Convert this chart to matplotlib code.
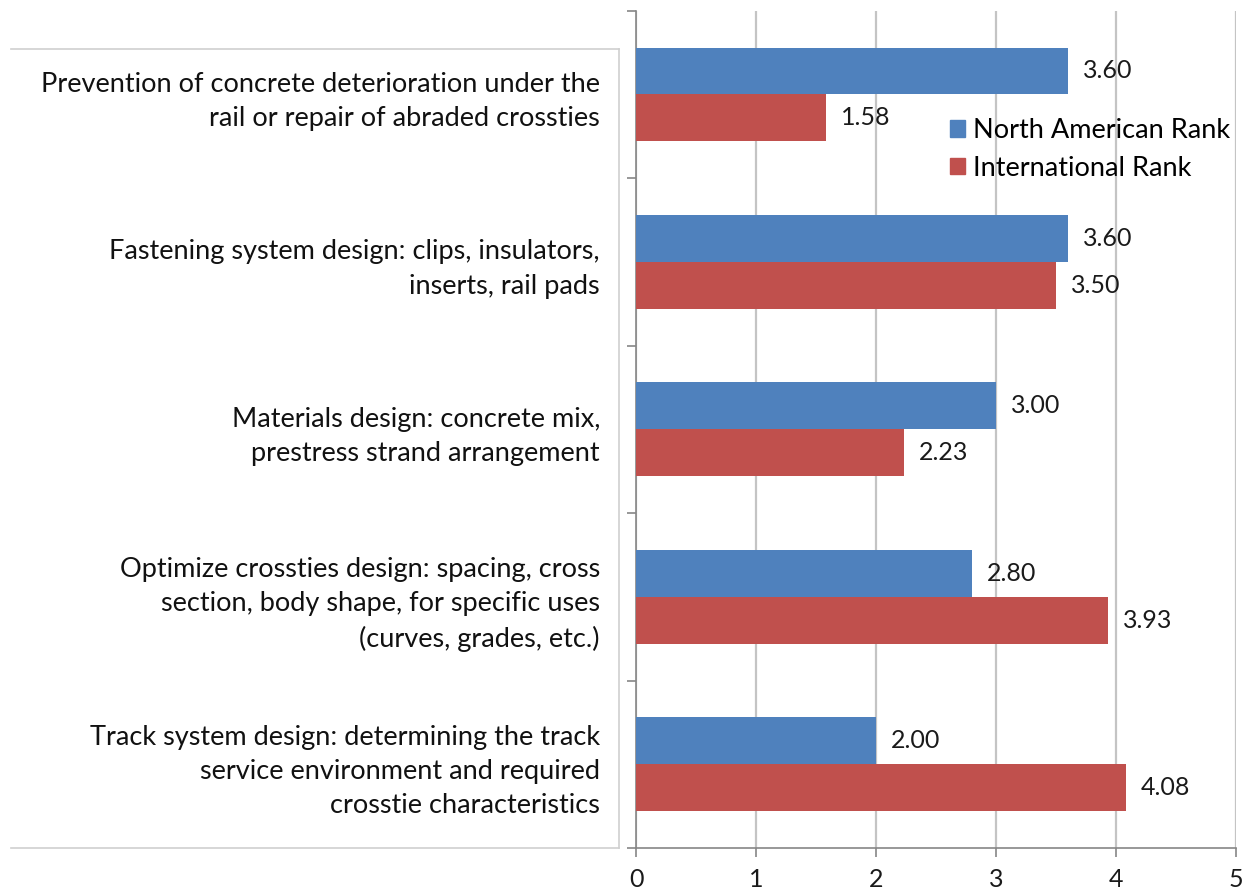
import matplotlib.pyplot as plt
from matplotlib.lines import Line2D
import numpy as np

# categories, top to bottom
categories = [
    "Prevention of concrete deterioration under the\nrail or repair of abraded crossties",
    "Fastening system design: clips, insulators,\ninserts, rail pads",
    "Materials design: concrete mix,\nprestress strand arrangement",
    "Optimize crossties design: spacing, cross\nsection, body shape, for specific uses\n(curves, grades, etc.)",
    "Track system design: determining the track\nservice environment and required\ncrosstie characteristics",
]
north_american = [3.60, 3.60, 3.00, 2.80, 2.00]
international = [1.58, 3.50, 2.23, 3.93, 4.08]
series_names = ["North American Rank", "International Rank"]
x_ticks = [0, 1, 2, 3, 4, 5]

BLUE = "#4f81bd"
RED = "#c0504d"
AXIS = "#868686"
GRID = "#c4c4c4"
FONT = "Lato"

plt.rcParams["font.family"] = [FONT, "DejaVu Sans"]

W, H = 1248, 894
fig = plt.figure(figsize=(W / 100, H / 100), dpi=100)
ax = fig.add_axes([636 / W, 1 - 848 / H, 600 / W, (848 - 10.7) / H])

y = np.arange(len(categories))
h = 0.28
ax.barh(y - h / 2, north_american, height=h, color=BLUE, label=series_names[0], zorder=3)
ax.barh(y + h / 2, international, height=h, color=RED, label=series_names[1], zorder=3)

for yi, v in zip(y - h / 2, north_american):
    ax.annotate(f"{v:.2f}", (v, yi), xytext=(11, 0), textcoords="offset points",
                va="center", ha="left", fontsize=18, color="#1a1a1a")
for yi, v in zip(y + h / 2, international):
    ax.annotate(f"{v:.2f}", (v, yi), xytext=(11, 0), textcoords="offset points",
                va="center", ha="left", fontsize=18, color="#1a1a1a")

ax.set_xlim(0, 5)
ax.set_ylim(len(categories) - 0.5, -0.5)
ax.set_xticks(x_ticks)
ax.set_xticklabels([str(t) for t in x_ticks], fontsize=18, color="#1a1a1a")
ax.tick_params(axis="x", direction="out", length=6.5, width=1.2, color=AXIS, pad=8)

# category boundaries get the tick marks, labels sit at the centers
ax.set_yticks(np.arange(len(categories) + 1) - 0.5)
ax.set_yticklabels([])
ax.tick_params(axis="y", which="major", direction="out", length=6.5, width=1.2, color=AXIS)
ax.set_yticks(y, minor=True)
ax.set_yticklabels(categories, minor=True, fontsize=19.5, color="#111111", linespacing=1.47)
ax.tick_params(axis="y", which="minor", length=0, pad=26)

ax.grid(axis="x", color=GRID, linewidth=1.6, zorder=0)
for side in ["top", "right"]:
    ax.spines[side].set_visible(False)
for side in ["left", "bottom"]:
    ax.spines[side].set_color(AXIS)
    ax.spines[side].set_linewidth(1.2)

handles = [plt.Rectangle((0, 0), 1, 1, color=BLUE), plt.Rectangle((0, 0), 1, 1, color=RED)]
ax.legend(handles, series_names, loc="upper left", bbox_to_anchor=(950 / W, 1 - 118 / H),
          bbox_transform=fig.transFigure, frameon=False, fontsize=19.5,
          handlelength=0.55, handleheight=0.55, handletextpad=0.3, labelspacing=0.47,
          borderaxespad=0, borderpad=0)

# thin frame around the category label area
frame_kw = dict(color="#cfcfcf", linewidth=1.2, transform=fig.transFigure)
x0, x1 = 11 / W, 619 / W
y0, y1 = 1 - 848 / H, 1 - 49 / H
fig.add_artist(Line2D([x0, x1], [y1, y1], **frame_kw))
fig.add_artist(Line2D([x0, x1], [y0, y0], **frame_kw))
fig.add_artist(Line2D([x1, x1], [y0, y1], **frame_kw))

fig.savefig("out.png", dpi=100, facecolor="white")
